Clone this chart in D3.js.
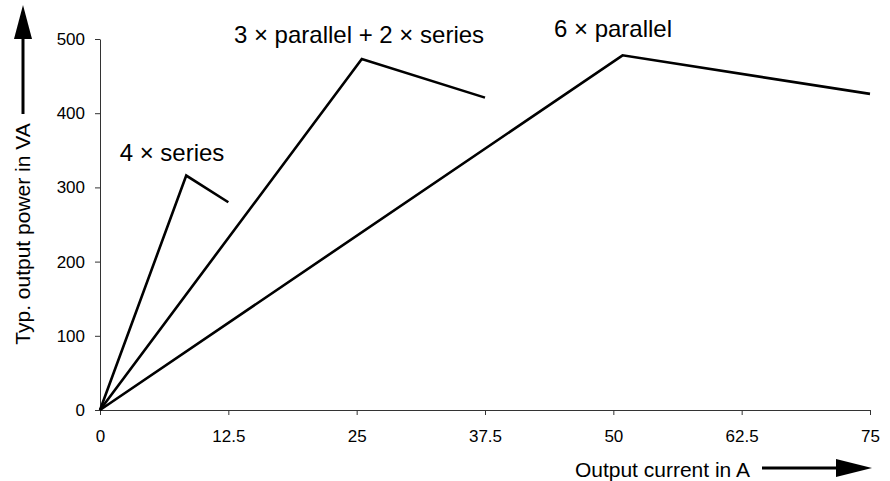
<!DOCTYPE html>
<html><head><meta charset="utf-8">
<script src="https://cdn.jsdelivr.net/npm/d3@7"></script>
<style>
html,body{margin:0;padding:0;background:#fff;}
text{font-family:"Liberation Sans",Arial,sans-serif;fill:#000;}
</style></head>
<body><svg id="c" width="890" height="481"></svg>
<script>
const xTicks = [0, 12.5, 25, 37.5, 50, 62.5, 75];
const yTicks = [0, 100, 200, 300, 400, 500];
const seriesNames = ["4 × series", "3 × parallel + 2 × series", "6 × parallel"];
const series4s = [[0,0],[8.4,316],[12.5,280]];
const series3p2s = [[0,0],[25.5,473],[37.5,421]];
const series6p = [[0,0],[50.9,478],[75,426]];
const xTitle = "Output current in A";
const yTitle = "Typ. output power in VA";

const svg = d3.select("#c");
const x = d3.scaleLinear().domain([0,75]).range([100,870]);
const y = d3.scaleLinear().domain([0,500]).range([410,39]);

const xa = svg.append("g").attr("transform","translate(0,410)")
  .call(d3.axisBottom(x).tickValues(xTicks).tickSize(5).tickSizeOuter(0).tickFormat(d=>String(d)));
const ya = svg.append("g").attr("transform","translate(100,0)")
  .call(d3.axisLeft(y).tickValues(yTicks).tickSize(5).tickSizeOuter(0));
[xa,ya].forEach(a=>{
  a.selectAll("path,line").attr("stroke","#333").attr("stroke-width",1);
  a.selectAll("text").style("font-size","17px").style("font-family","'Liberation Sans',Arial,sans-serif");
});
xa.selectAll("text").attr("y",20);
ya.selectAll("text").attr("x",-15);

const line = d3.line().x(d=>x(d[0])).y(d=>y(d[1]));
[series4s, series3p2s, series6p].forEach(s=>{
  svg.append("path").attr("d",line(s)).attr("fill","none").attr("stroke","#000").attr("stroke-width",2.6).attr("stroke-linejoin","miter");
});

const labelPos = [[172,161],[359,43],[613,37]];
seriesNames.forEach((n,i)=>{
  svg.append("text").attr("x",labelPos[i][0]).attr("y",labelPos[i][1]).attr("text-anchor","middle")
    .style("font-size","24px").text(n);
});

// axis titles with arrows
svg.append("text").attr("x",750).attr("y",477).attr("text-anchor","end").style("font-size","21px").text(xTitle);
svg.append("line").attr("x1",762).attr("x2",840).attr("y1",468).attr("y2",468).attr("stroke","#000").attr("stroke-width",3);
svg.append("path").attr("d","M836,459 L872,468 L836,477 Z").attr("fill","#000");

svg.append("text").attr("transform","translate(30,234) rotate(-90)").attr("text-anchor","middle").style("font-size","21px").text(yTitle);
svg.append("line").attr("x1",23).attr("x2",23).attr("y1",114).attr("y2",36).attr("stroke","#000").attr("stroke-width",3);
svg.append("path").attr("d","M14,39 L23,5 L32,39 Z").attr("fill","#000");
</script></body></html>
